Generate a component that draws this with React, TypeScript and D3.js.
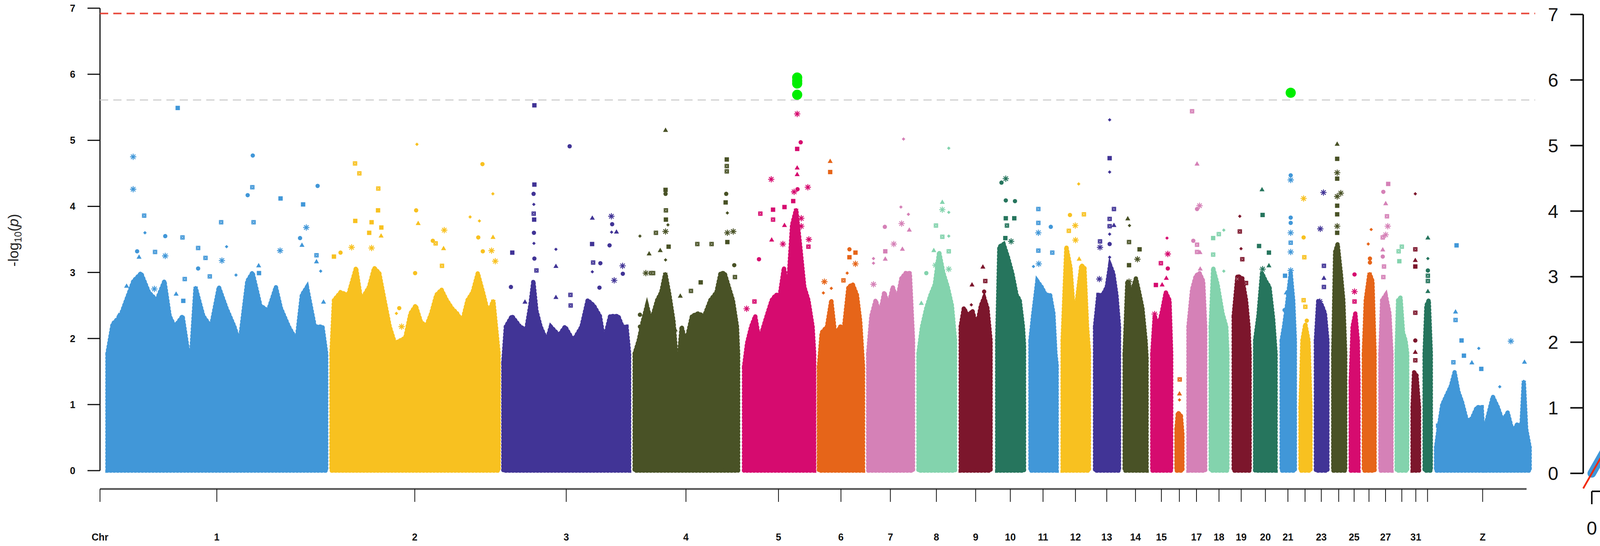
import React from 'react'
import * as d3 from 'd3'

// chromosomes, lengths (Mb) and colour cycle
const chrNames = ['1', '2', '3', '4', '5', '6', '7', '8', '9', '10', '11', '12', '13', '14', '15', '16', '17', '18', '19', '20', '21', '22', '23', '24', '25', '26', '27', '28', '31', '33', 'Z']
const chrLengths = [193, 148, 111, 92, 63, 39, 40, 33, 28, 25, 24.5, 24.5, 22.5, 20, 17.5, 6, 16, 15.5, 15.5, 19, 12.5, 9.5, 11, 11.5, 7.5, 10.5, 10.5, 10, 6.5, 6, 83]
const labelledChr = ['1', '2', '3', '4', '5', '6', '7', '8', '9', '10', '11', '12', '13', '14', '15', '17', '18', '19', '20', '21', '23', '25', '27', '31', 'Z']
const chrColors = ['#4197d8', '#f8c120', '#413496', '#495226', '#d60b6f', '#e66519', '#d581b7', '#83d3ad', '#7c162c', '#26755d']
const chrGap = 4.1

// dense body outline per chromosome: [position Mb, -log10(p)]
const body1 = [[0, 1.77], [4.6, 2.22], [11.4, 2.34], [18.3, 2.66], [22.9, 2.87], [29.7, 2.99], [36.6, 2.7], [43.4, 2.58], [50.3, 2.87], [54.9, 2.34], [59.4, 2.18], [66.3, 2.34], [73.2, 1.57], [77.7, 2.78], [84.6, 2.34], [91.4, 2.18], [98.3, 2.78], [105, 2.46], [112, 2.18], [116.6, 1.93], [123.4, 2.87], [128, 3.0], [134.9, 2.5], [141.7, 2.42], [148.6, 2.78], [153, 2.46], [160, 2.18], [166.9, 1.97], [171.5, 2.66], [176, 2.78], [182.9, 2.18], [189.7, 2.18], [193, 1.77]]
const body2 = [[0.5, 1.77], [2.7, 2.58], [8.5, 2.7], [15.3, 2.66], [22.2, 3.07], [26.7, 2.58], [33.6, 2.78], [38.2, 3.07], [42.7, 2.99], [47.3, 2.58], [51.9, 2.18], [56.5, 1.93], [61, 1.97], [65.6, 2.01], [70.2, 2.38], [74.8, 2.5], [79.3, 2.26], [83.9, 2.18], [88.5, 2.38], [93, 2.66], [97.6, 2.74], [102.2, 2.58], [106.8, 2.46], [111.3, 2.38], [115.9, 2.26], [120.5, 2.58], [125, 2.7], [129.6, 2.99], [134.2, 2.7], [138.8, 2.38], [143.3, 2.58], [148, 1.77]]
const body3 = [[0, 1.64], [2.2, 2.18], [7.6, 2.34], [14.8, 2.18], [20.2, 2.13], [23.8, 2.5], [26.5, 2.87], [29.2, 2.42], [32.9, 2.18], [38.3, 1.97], [41.9, 2.18], [49.1, 2.05], [54.5, 2.18], [61.7, 1.97], [69, 2.18], [74.4, 2.58], [79.8, 2.5], [85.2, 2.34], [88.8, 1.97], [94.2, 2.34], [101.4, 2.34], [105.1, 2.18], [108.7, 2.18], [111, 1.77]]
const body4 = [[0.7, 1.77], [4.3, 1.97], [7.9, 2.26], [11.6, 2.5], [15.2, 2.26], [20.6, 2.58], [24.2, 2.7], [27.8, 2.99], [31.4, 2.66], [35, 2.26], [38.6, 1.49], [42.2, 2.18], [45.8, 1.93], [51.3, 2.34], [56.7, 2.38], [62.1, 2.34], [67.5, 2.58], [72.9, 2.7], [76.5, 2.99], [80.1, 2.99], [83.8, 2.78], [87.4, 2.58], [91, 2.18], [92, 1.77]]
const body5 = [[1.1, 1.57], [3.8, 1.93], [7.4, 2.18], [11, 2.34], [14.6, 1.97], [18.2, 2.18], [21.8, 2.38], [25.5, 2.58], [29.1, 2.66], [32.7, 2.66], [36.3, 3.07], [39.9, 2.74], [43.5, 3.72], [47.1, 3.96], [50.7, 3.39], [54.3, 2.78], [57.9, 2.58], [61.6, 2.18], [63, 1.77]]
const body6 = [[0, 1.57], [2.5, 2.09], [7.2, 2.18], [11, 2.58], [14.7, 2.01], [18.5, 2.18], [22.3, 2.18], [26.1, 2.78], [29.9, 2.82], [33.6, 2.66], [36.5, 2.26], [39, 1.57]]
const body7 = [[0.4, 1.77], [3.2, 2.34], [7, 2.58], [10.8, 2.38], [14.6, 2.7], [18.3, 2.5], [22.1, 2.78], [25.9, 2.58], [29.7, 2.91], [33.5, 2.99], [37.2, 2.99], [40, 1.97]]
const body8 = [[0.6, 1.77], [3.8, 2.18], [7.6, 2.46], [11.3, 2.66], [15.1, 2.82], [18.9, 3.31], [22.7, 2.99], [26.5, 2.78], [30.2, 2.5], [33, 1.97]]
const body9 = [[0.8, 2.18], [3.6, 2.46], [7.4, 2.34], [11.2, 2.42], [14.9, 2.18], [18.7, 2.5], [21.5, 2.62], [24.4, 2.46], [27.2, 1.97]]
const body10 = [[0.9, 1.97], [2.8, 3.39], [6.6, 3.43], [10.4, 3.23], [14.2, 2.99], [18, 2.66], [20.8, 2.58], [23.6, 2.18], [24.6, 1.9]]
const body11 = [[1.1, 1.97], [3.4, 2.34], [7.2, 2.87], [11, 2.78], [14.7, 2.66], [18.5, 2.66], [21.4, 2.38], [23.2, 1.77], [24.3, 1.6]]
const body12 = [[0.9, 1.97], [4.2, 3.39], [7.9, 3.07], [10.8, 2.38], [13.6, 2.58], [17.4, 3.11], [20.2, 3.07], [22.5, 2.18], [24.2, 1.8]]
const body13 = [[0.9, 2.18], [3.8, 2.66], [7.6, 2.66], [11.3, 2.78], [14.2, 3.11], [17, 2.99], [19.8, 2.66], [22.1, 2.18]]
const body14 = [[0.4, 1.77], [2.8, 2.87], [6.6, 2.7], [10.4, 2.91], [13.2, 2.7], [16.1, 2.46], [18.9, 1.97], [19.8, 1.7]]
const body15 = [[0.7, 1.77], [2.8, 2.34], [6.1, 2.18], [9.4, 2.42], [12.6, 2.7], [15.9, 2.58], [17.4, 1.77]]
const body16 = [[0.4, 0.63], [1.7, 0.88], [4.4, 0.83], [5.7, 0.55]]
const body17 = [[0.9, 2.18], [4.1, 2.74], [7.4, 2.95], [10.7, 2.99], [13.9, 2.87], [15.7, 2.18]]
const body18 = [[0.4, 2.18], [2.6, 3.07], [6.5, 2.82], [10.9, 2.38], [14.2, 2.18], [15.2, 1.77]]
const body19 = [[1.1, 2.34], [4.4, 2.95], [8.7, 2.91], [12, 2.58], [14.2, 2.18], [15.2, 1.77]]
const body20 = [[0.4, 1.97], [3.3, 2.34], [6.5, 2.99], [9.8, 2.87], [13.1, 2.78], [16.3, 2.3], [18.5, 1.77]]
const body21 = [[0.7, 1.97], [2.8, 2.18], [5.4, 2.5], [8.7, 2.99], [10.9, 2.58], [12.4, 1.97]]
const body22 = [[0.7, 0.96], [2.4, 1.97], [5, 2.22], [7.8, 1.97], [9.6, 0.96]]
const body23 = [[0.7, 1.97], [2.8, 2.58], [6.1, 2.5], [8.7, 2.38], [10.9, 1.97]]
const body24 = [[0.9, 1.77], [2.6, 3.31], [4.8, 3.43], [7.6, 2.99], [9.8, 2.58], [11.5, 1.77]]
const body25 = [[0.7, 1.36], [2.4, 2.18], [4.8, 2.38], [7, 1.97], [7.6, 1.36]]
const body26 = [[0.7, 1.77], [2.4, 2.58], [5.7, 2.99], [8.3, 2.87], [10.2, 1.77]]
const body27 = [[0.7, 1.77], [2.2, 2.58], [5.4, 2.66], [8.7, 2.38], [10.5, 1.77]]
const body28 = [[0.4, 1.77], [1.7, 2.58], [3.9, 2.62], [6.1, 2.09], [8.3, 1.97], [9.8, 1.77]]
const body31 = [[0.4, 0.96], [1.7, 1.49], [3.9, 1.44], [6.1, 0.96]]
const body33 = [[0.4, 1.77], [2, 2.5], [4.1, 2.58], [5.9, 1.77]]
const bodyZ = [[0.4, 0.35], [2.6, 0.63], [5.9, 1.0], [10.2, 1.16], [13.5, 1.28], [16.8, 1.49], [20, 1.2], [23.3, 1.04], [27.7, 0.75], [32, 0.79], [36.4, 0.96], [40.7, 0.96], [41.8, 0.6], [42.3, 0], [43.8, 0], [44.3, 0.7], [46.2, 0.83], [50.5, 1.12], [54.9, 0.96], [59.2, 0.75], [63.6, 0.88], [68, 0.59], [72.3, 0.71], [75.6, 0.63], [77.8, 1.36], [79.9, 0.63], [83, 0.35]]

// sparse top markers per chromosome: [position Mb, -log10(p), symbol]
// c circle, s square, x square with cross, t triangle, d diamond, a asterisk
const peaks1 = [[62, 5.49, 's'], [22.7, 4.75, 'a'], [22.7, 4.26, 'a'], [128.2, 4.77, 'c'], [127.8, 4.29, 'x'], [123.7, 4.17, 'c'], [185.4, 4.31, 'c'], [152.7, 4.12, 's'], [172.6, 4.03, 's'], [32.4, 3.86, 'x'], [100.3, 3.76, 'x'], [33.1, 3.6, 'd'], [51, 3.55, 'c'], [66.2, 3.53, 'x'], [128.9, 3.76, 'x'], [175.4, 3.68, 'a'], [169.9, 3.52, 'c'], [80, 3.37, 'x'], [105.1, 3.39, 'd'], [26.2, 3.32, 'c'], [42, 3.31, 'x'], [51, 3.25, 'a'], [101, 3.18, 'a'], [86.5, 3.22, 'x'], [184.4, 3.26, 'x'], [171.6, 3.41, 't'], [152.3, 3.33, 'a'], [27.9, 3.23, 't'], [184.4, 3.16, 't'], [188.1, 3.02, 'd'], [133.7, 2.99, 's'], [133.4, 3.1, 't'], [113.4, 2.96, 'd'], [80, 3.06, 'c'], [90.3, 2.94, 'x'], [68.2, 2.9, 'x'], [16.9, 2.79, 't'], [190.6, 2.55, 't'], [41.4, 2.75, 'a'], [60.6, 2.67, 't'], [66.9, 2.57, 's'], [10, 2.35, 't']]
const peaks2 = [[75.9, 4.94, 'd'], [133.7, 4.64, 'c'], [21.3, 4.65, 'x'], [25.1, 4.5, 'x'], [41.8, 4.27, 'x'], [142.9, 4.19, 'd'], [41.6, 3.94, 's'], [75.2, 3.94, 'c'], [21.5, 3.78, 's'], [77, 3.74, 't'], [35.9, 3.76, 's'], [122.8, 3.84, 'd'], [131, 3.78, 'd'], [44.5, 3.68, 's'], [33.8, 3.6, 's'], [44.3, 3.55, 't'], [130, 3.53, 'c'], [143, 3.53, 't'], [100, 3.64, 'a'], [89.9, 3.48, 'c'], [92.4, 3.44, 'x'], [99.4, 3.36, 't'], [18.3, 3.38, 'a'], [35.9, 3.37, 'a'], [2.7, 3.24, 's'], [8.5, 3.3, 'c'], [141.7, 3.33, 'a'], [145, 3.17, 'a'], [134, 3.32, 'c'], [98, 3.1, 'x'], [74.3, 2.99, 'c'], [60.3, 2.46, 'c'], [62.4, 2.18, 'a'], [57.8, 2.38, 'd']]
const peaks3 = [[27.4, 5.53, 's'], [58.5, 4.91, 'c'], [27.4, 4.33, 's'], [26.7, 4.19, 'c'], [26.9, 4.03, 'd'], [26.8, 3.89, 'x'], [27.2, 3.8, 's'], [27, 3.6, 'c'], [27, 3.44, 'd'], [78.5, 3.82, 't'], [95.3, 3.85, 'a'], [96, 3.73, 'c'], [95.5, 3.61, 'd'], [99.8, 3.61, 't'], [93.7, 3.41, 'c'], [7.9, 3.3, 's'], [46.4, 3.35, 'd'], [46.4, 3.09, 't'], [78.3, 3.43, 's'], [79.2, 3.15, 'x'], [85.6, 3.14, 'c'], [105.2, 3.1, 'a'], [97.8, 2.88, 'a'], [105.4, 2.98, 'c'], [78.5, 3.01, 'd'], [27.4, 3.21, 'c'], [29.2, 3.03, 'x'], [6.7, 2.78, 'c'], [46.4, 2.62, 't'], [59.2, 2.66, 'x'], [59.4, 2.5, 'x'], [19.1, 2.55, 't'], [84.8, 2.77, 'c']]
const peaks4 = [[28, 5.15, 't'], [28, 4.25, 's'], [28, 4.19, 'c'], [28.3, 3.94, 'x'], [28.3, 3.8, 's'], [30.1, 3.72, 'd'], [28, 3.62, 'a'], [19.5, 3.6, 'x'], [5.4, 3.55, 'd'], [56, 3.43, 'x'], [68.6, 3.43, 'x'], [82, 4.71, 's'], [82, 4.61, 'x'], [82, 4.53, 'x'], [81.5, 4.19, 'c'], [81, 4.06, 's'], [82.5, 3.9, 'd'], [82.5, 3.6, 'a'], [87.7, 3.62, 'a'], [82.5, 3.46, 's'], [13.5, 3.28, 't'], [23.3, 3.33, 't'], [28, 3.19, 'd'], [30.7, 3.39, 's'], [15.2, 2.99, 'x'], [17, 2.99, 'x'], [10.6, 2.99, 'a'], [89.2, 2.93, 'x'], [88.6, 3.11, 'c'], [59, 2.85, 's'], [50.4, 2.72, 'x'], [41, 2.64, 't'], [5.4, 2.36, 'c'], [5.4, 2.18, 'c'], [36.5, 2.13, 't']]
const peaks5 = [[48, 5.4, 'a'], [51.1, 4.97, 'c'], [48, 4.87, 's'], [48, 4.58, 't'], [48, 4.48, 't'], [25.1, 4.41, 'a'], [57.4, 4.29, 'a'], [48.3, 4.26, 'c'], [45.3, 4.22, 'a'], [44.5, 4.08, 's'], [15.5, 3.89, 'x'], [26.7, 3.95, 's'], [36.8, 3.99, 's'], [26.7, 3.8, 'x'], [36.8, 3.71, 't'], [25.5, 3.49, 't'], [35.4, 3.43, 'a'], [14.3, 3.2, 'c'], [3.4, 2.45, 'a'], [10.3, 2.56, 'x'], [57.9, 3.39, 'x'], [58.3, 3.5, 'a'], [51.6, 3.82, 'a'], [51.6, 3.7, 'a']]
const peaks6 = [[10, 4.68, 't'], [10, 4.52, 's'], [27, 3.35, 'c'], [32.3, 3.3, 's'], [27, 3.23, 's'], [32.3, 3.13, 'a'], [4.9, 2.86, 'a'], [21.7, 2.88, 'x'], [25, 2.99, 'd'], [11, 2.76, 'd'], [4, 2.69, 'd']]
const peaks7 = [[31.6, 5.02, 'd'], [29.3, 3.99, 'd'], [35.9, 3.88, 'd'], [29.9, 3.74, 'a'], [15.1, 3.69, 'c'], [36.7, 3.64, 't'], [23, 3.43, 'a'], [15.5, 3.32, 's'], [15.5, 3.2, 't'], [5.1, 3.21, 'd'], [5.1, 3.14, 'd'], [30.6, 3.35, 't'], [5.1, 2.82, 'a']]
const peaks8 = [[27.4, 4.88, 'd'], [21.7, 4.06, 't'], [21.7, 3.95, 'a'], [27.4, 3.91, 'd'], [16.1, 3.71, 'x'], [21.7, 3.54, 'x'], [27.4, 3.55, 'd'], [14.2, 3.33, 't'], [27.4, 3.32, 'x'], [15.7, 3.11, 'a'], [27.4, 3.05, 'a'], [7.6, 2.99, 'c'], [3.2, 2.53, 't']]
const peaks9 = [[20.4, 3.08, 't'], [10.8, 2.81, 't'], [22.5, 2.87, 'x'], [21.5, 2.71, 'c'], [10.2, 2.51, 'd']]
const peaks10 = [[8.5, 4.42, 'a'], [4.7, 4.36, 'c'], [8.5, 4.09, 'c'], [16.6, 4.08, 'c'], [8.5, 3.82, 's'], [16, 3.82, 's'], [9.5, 3.71, 'x'], [8.1, 3.52, 's'], [13.2, 3.47, 'a']]
const peaks11 = [[8.1, 3.96, 'x'], [8.1, 3.75, 'x'], [8.1, 3.33, 'x'], [20.4, 3.3, 'x'], [8.1, 3.6, 'a'], [19.1, 3.69, 'c'], [8.5, 3.13, 'a'], [3.8, 3.09, 'd']]
const peaks12 = [[15.1, 4.34, 'd'], [7.4, 3.87, 'c'], [19.7, 3.88, 'x'], [12.1, 3.71, 'a'], [6.4, 3.63, 'x'], [12.3, 3.49, 'a'], [15.5, 3.2, 't']]
const peaks13 = [[13.8, 5.31, 'd'], [13.8, 4.73, 's'], [13.8, 4.52, 'd'], [17.6, 3.96, 'x'], [13.8, 3.81, 'x'], [13.8, 3.7, 'x'], [17.6, 3.71, 't'], [13.8, 3.58, 'd'], [5.3, 3.47, 'x'], [5.3, 3.38, 'a'], [13.8, 3.43, 'c'], [13.8, 3.23, 'd'], [4.7, 2.9, 'a']]
const peaks14 = [[3.2, 3.81, 't'], [4.7, 3.71, 'd'], [4.3, 3.46, 'x'], [13.6, 3.35, 's'], [11.7, 3.2, 'a'], [4.3, 3.11, 's'], [4.3, 2.86, 'a']]
const peaks15 = [[13.7, 3.52, 'd'], [14.4, 3.28, 'a'], [8.3, 3.14, 'x'], [14.4, 3.06, 'c'], [13.1, 2.91, 't'], [3.9, 2.81, 's'], [9.4, 2.81, 't'], [2.8, 2.37, 'a']]
const peaks16 = [[3.3, 1.38, 'x'], [3.1, 1.16, 't'], [3.1, 1.07, 'd']]
const peaks17 = [[4.1, 5.44, 'x'], [8.5, 4.64, 't'], [10.7, 4.01, 'a'], [8.5, 3.96, 'c'], [5.2, 3.48, 'c'], [8.5, 3.42, 'x'], [8.5, 3.31, 'x'], [11.1, 3.3, 't'], [11.3, 3.05, 't']]
const peaks18 = [[12, 3.64, 'd'], [7.6, 3.58, 'x'], [2.6, 3.52, 's'], [2.6, 3.27, 'x'], [12, 3.02, 'd']]
const peaks19 = [[6.5, 3.85, 'd'], [6.5, 3.62, 'x'], [7.6, 3.36, 'd'], [8.7, 3.2, 'x'], [4.4, 2.9, 'x'], [12, 2.84, 'x']]
const peaks20 = [[6.5, 4.25, 't'], [7, 3.87, 's'], [3.9, 3.4, 's'], [12.6, 3.3, 's'], [12.6, 3.1, 't'], [7, 3.05, 'a']]
const peaks21 = [[8.7, 4.47, 'c'], [8.7, 4.4, 'a'], [8.7, 3.83, 'c'], [8.7, 3.75, 'c'], [8.7, 3.6, 'a'], [8.7, 3.45, 'x'], [8.7, 3.31, 'a'], [8.7, 3.03, 'a'], [3.7, 2.95, 's'], [4.8, 2.69, 't'], [3.3, 2.43, 'c']]
const peaks22 = [[3.5, 4.12, 'a'], [3.5, 3.53, 'c'], [4.1, 3.23, 'x'], [3.5, 2.58, 'x'], [5, 2.48, 'x'], [6.3, 2.27, 'c']]
const peaks23 = [[7.4, 4.21, 'a'], [4.6, 3.66, 'a'], [7.8, 3.1, 'x'], [7.8, 2.91, 't'], [7.8, 2.78, 'x'], [4.2, 2.56, 'a']]
const peaks24 = [[4.4, 4.94, 't'], [4.4, 4.72, 's'], [4.4, 4.51, 'a'], [4.4, 4.42, 's'], [4.4, 4.15, 'a'], [7.6, 4.2, 'a'], [4.4, 4.01, 's'], [4.4, 3.88, 's'], [4.4, 3.7, 'a'], [4.4, 3.6, 's']]
const peaks25 = [[4.1, 2.97, 'c'], [4.1, 2.71, 'a'], [4.1, 2.56, 'x']]
const peaks26 = [[7.2, 3.65, 'd'], [4.6, 3.43, 'd'], [6.1, 3.21, 'c'], [6.1, 3.15, 'c']]
const peaks27 = [[7.6, 4.34, 's'], [3.3, 4.22, 'c'], [5.4, 4.04, 't'], [6.5, 3.85, 'x'], [7.2, 3.7, 'a'], [2.8, 3.53, 'x'], [5.4, 3.57, 'a'], [2.8, 3.34, 't'], [2.8, 3.24, 'c'], [3.9, 3.09, 'x'], [3.3, 2.93, 'x']]
const peaks28 = [[5, 3.39, 'x'], [2.2, 3.32, 'x'], [2.8, 3.17, 's']]
const peaks31 = [[2.8, 4.19, 'd'], [2.8, 3.35, 'x'], [2.8, 3.18, 't'], [2.8, 3.09, 's'], [2.8, 2.39, 'x'], [2.8, 1.97, 'c'], [2.8, 1.79, 't'], [2.8, 1.67, 'x']]
const peaks33 = [[3.3, 3.52, 't'], [3.3, 3.21, 'd'], [3.3, 3.03, 'c'], [3.3, 2.95, 'x'], [3.3, 2.87, 'x'], [3.3, 2.71, 't']]
const peaksZ = [[18.5, 3.41, 's'], [17.6, 2.4, 't'], [17.6, 2.28, 'x'], [66.4, 1.96, 'a'], [22.9, 1.97, 's'], [38.1, 1.85, 'd'], [25, 1.74, 's'], [15.7, 1.64, 'x'], [32, 1.63, 't'], [40.3, 1.54, 's'], [78.4, 1.64, 't'], [56.6, 1.27, 'd'], [2.2, 0.68, 's']]

// signals above the suggestive line: [chromosome, position Mb, -log10(p)]
const sigPoints = [['5', 48, 5.95], ['5', 48, 5.9], ['5', 48, 5.86], ['5', 48, 5.69], ['21', 8.7, 5.72]]

const yTicks = [0, 1, 2, 3, 4, 5, 6, 7]
const redThreshold = 6.92
const grayThreshold = 5.61

// QQ plot: expected vs observed -log10(p)
const qqDense = [[0, 0], [1, 1], [2, 2.02], [2.5, 2.6], [2.7, 2.84], [3.0, 3.3], [3.2, 3.65], [3.44, 4.0], [3.7, 4.3], [3.93, 4.54], [4.15, 4.75], [4.35, 4.92]]
const qqTop = [[4.4, 4.92], [4.45, 4.97], [4.5, 5.02], [4.56, 5.14], [4.56, 5.33], [4.62, 5.4], [4.66, 5.46], [4.72, 5.5], [4.78, 5.53], [4.82, 5.56], [4.86, 5.68], [4.98, 5.72], [5.0, 5.87], [5.1, 5.87], [5.17, 5.9], [5.33, 5.91], [5.63, 5.95]]
const qqBandExpected = [2.5, 3.0, 3.5, 4.0, 4.5, 5.0, 5.3, 5.61]
const qqBandLower = [2.45, 2.92, 3.38, 3.83, 4.27, 4.68, 4.9, 5.13]
const qqBandUpper = [2.56, 3.1, 3.66, 4.25, 4.88, 5.62, 6.08, 6.91]
const qqLineRange = [-0.23, 6.24]
const qqXTicks = [0, 1, 2, 3, 4, 5, 6]
const qqYTicks = [0, 1, 2, 3, 4, 5, 6, 7]

const bodies = [body1, body2, body3, body4, body5, body6, body7, body8, body9, body10, body11, body12, body13, body14, body15, body16, body17, body18, body19, body20, body21, body22, body23, body24, body25, body26, body27, body28, body31, body33, bodyZ]
const peaks = [peaks1, peaks2, peaks3, peaks4, peaks5, peaks6, peaks7, peaks8, peaks9, peaks10, peaks11, peaks12, peaks13, peaks14, peaks15, peaks16, peaks17, peaks18, peaks19, peaks20, peaks21, peaks22, peaks23, peaks24, peaks25, peaks26, peaks27, peaks28, peaks31, peaks33, peaksZ]

const FONT = "'Liberation Sans', Arial, Helvetica, sans-serif"

// 8-spoke asterisk like R's pch 8
function asteriskPath(r: number) {
  const p = d3.path()
  for (let k = 0; k < 4; k++) {
    const a = (k * Math.PI) / 4
    p.moveTo(-r * Math.cos(a), -r * Math.sin(a))
    p.lineTo(r * Math.cos(a), r * Math.sin(a))
  }
  return p.toString()
}

const circlePath = d3.symbol(d3.symbolCircle, 95)()
const squarePath = d3.symbol(d3.symbolSquare, 125)()
const trianglePath = d3.symbol(d3.symbolTriangle, 72)()
const diamondPath = d3.symbol(d3.symbolSquare, 40)()
const starPath = asteriskPath(8)

function Marker({ cx, cy, shape, color }: { cx: number; cy: number; shape: string; color: string }) {
  const t = `translate(${cx},${cy})`
  if (shape === 'a') return <path d={starPath} transform={t} stroke={color} strokeWidth={2.4} fill="none" />
  if (shape === 'd') return <path d={diamondPath} transform={`${t} rotate(45)`} fill={color} />
  if (shape === 't') return <path d={trianglePath} transform={t} fill={color} />
  if (shape === 'c') return <path d={circlePath} transform={t} fill={color} />
  if (shape === 'x') {
    return (
      <g transform={t}>
        <path d={squarePath} fill={color} />
        <path d="M-3.5,-3.5L3.5,3.5M-3.5,3.5L3.5,-3.5" stroke="#ffffff" strokeWidth={1.1} strokeDasharray="1.5 1" opacity={0.85} />
      </g>
    )
  }
  return <path d={squarePath} transform={t} fill={color} />
}

export default function App() {
  const width = 4680
  const height = 1398

  // cumulative chromosome offsets
  const offsets: number[] = []
  let acc = 0
  chrLengths.forEach((len) => {
    offsets.push(acc)
    acc += len + chrGap
  })
  const total = acc - chrGap

  const x = d3.scaleLinear().domain([0, total]).range([275, 3916])
  const y = d3.scaleLinear().domain([0, 7]).range([1205, 21])
  const axisX = 256
  const bottomAxisY = 1252

  const qx = d3.scaleLinear().domain([0, 6]).range([4075, 4648])
  const qy = d3.scaleLinear().domain([0, 7]).range([1212, 37])
  const qAxisX = 4053
  const qAxisY = 1258

  const area = d3.area<number[]>()
    .x0((d) => d[0])
    .y0(y(0))
    .y1((d) => d[1])
    .curve(d3.curveLinear)

  const qqLine = d3.line<number[]>()
    .x((d) => qx(d[0]))
    .y((d) => qy(d[1]))
    .curve(d3.curveLinear)

  const band = d3.area<number>()
    .x((_, i) => qx(qqBandExpected[i]))
    .y0((_, i) => qy(qqBandLower[i]))
    .y1((_, i) => qy(qqBandUpper[i]))

  const chrIndex = (name: string) => chrNames.indexOf(name)

  return (
    <svg width={width} height={height} style={{ position: 'absolute', left: 0, top: 0, background: '#ffffff', display: 'block' }} fontFamily={FONT}>
      <rect x={0} y={0} width={width} height={height} fill="#ffffff" />

      {/* y axis title */}
      <text transform="translate(47,615) rotate(-90)" textAnchor="middle" fontSize={37} fill="#222">
        -log<tspan fontSize={25} dy={8}>10</tspan><tspan dy={-8}>(</tspan><tspan fontStyle="italic">p</tspan>)
      </text>

      {/* Manhattan y axis */}
      <line x1={axisX} x2={axisX} y1={y(0)} y2={y(7)} stroke="#111" strokeWidth={3} />
      {yTicks.map((t) => (
        <g key={`yt${t}`}>
          <line x1={axisX - 32} x2={axisX} y1={y(t)} y2={y(t)} stroke="#111" strokeWidth={3} />
          <text x={186} y={y(t) + 9} textAnchor="middle" fontSize={25} fontWeight="bold" fill="#111">{t}</text>
        </g>
      ))}

      {/* thresholds */}
      <line x1={axisX} x2={3930} y1={y(redThreshold)} y2={y(redThreshold)} stroke="#e8483b" strokeWidth={4} strokeDasharray="21 13" />
      <line x1={axisX} x2={3930} y1={y(grayThreshold)} y2={y(grayThreshold)} stroke="#cfcfcf" strokeWidth={3} strokeDasharray="21 13" />

      {/* dense bodies, with a dotted rim to mimic the ragged point edge */}
      {bodies.map((b, i) => {
        const color = chrColors[i % chrColors.length]
        const pts = b.map((d) => [x(offsets[i] + d[0]), y(d[1])])
        const dPath = area(pts) || ''
        return (
          <g key={`body${i}`}>
            <path d={dPath} fill={color} stroke={color} strokeWidth={5} strokeLinejoin="round" />
            <path d={dPath} fill="none" stroke={color} strokeWidth={11} strokeLinecap="round" strokeDasharray="2 7" />
          </g>
        )
      })}

      {/* sparse markers */}
      {peaks.map((list, i) => {
        const color = chrColors[i % chrColors.length]
        return (
          <g key={`pk${i}`}>
            {list.map((p, j) => (
              <Marker key={j} cx={x(offsets[i] + (p[0] as number))} cy={y(p[1] as number)} shape={p[2] as string} color={color} />
            ))}
          </g>
        )
      })}

      {/* highlighted signals */}
      {sigPoints.map((s, k) => {
        const i = chrIndex(s[0] as string)
        return <circle key={`sig${k}`} cx={x(offsets[i] + (s[1] as number))} cy={y(s[2] as number)} r={13} fill="#00ee00" />
      })}

      {/* chromosome axis */}
      <line x1={axisX} x2={3908} y1={bottomAxisY} y2={bottomAxisY} stroke="#555" strokeWidth={4.5} />
      <line x1={axisX} x2={axisX} y1={bottomAxisY} y2={bottomAxisY + 33} stroke="#111" strokeWidth={2} />
      <text x={axisX} y={1384} textAnchor="middle" fontSize={25} fontWeight="bold" fill="#111">Chr</text>
      {chrNames.map((name, i) => {
        const cx = x(offsets[i] + chrLengths[i] / 2)
        return (
          <g key={`ct${name}`}>
            <line x1={cx} x2={cx} y1={bottomAxisY} y2={bottomAxisY + 33} stroke="#111" strokeWidth={2} />
            {labelledChr.includes(name) && (
              <text x={cx} y={1384} textAnchor="middle" fontSize={25} fontWeight="bold" fill="#111">{name}</text>
            )}
          </g>
        )
      })}

      {/* QQ plot */}
      <path d={band(qqBandExpected) || ''} fill="#4197d8" fillOpacity={0.32} stroke="#4197d8" strokeWidth={3} />
      <path d={qqLine(qqDense) || ''} fill="none" stroke="#4197d8" strokeWidth={22} strokeLinecap="round" strokeLinejoin="round" />
      {qqTop.map((p, k) => (
        <circle key={`qq${k}`} cx={qx(p[0])} cy={qy(p[1])} r={10} fill="#4197d8" />
      ))}
      <line x1={qx(qqLineRange[0])} x2={qx(qqLineRange[1])} y1={qy(qqLineRange[0])} y2={qy(qqLineRange[1])} stroke="#f22b0c" strokeWidth={4.5} />

      <line x1={qAxisX} x2={qAxisX} y1={qy(0)} y2={qy(7)} stroke="#111" strokeWidth={4} />
      {qqYTicks.map((t) => (
        <g key={`qy${t}`}>
          <line x1={qAxisX - 33} x2={qAxisX} y1={qy(t)} y2={qy(t)} stroke="#111" strokeWidth={4} />
          <text x={3976} y={qy(t) + 17} textAnchor="middle" fontSize={48} fill="#111">{t}</text>
        </g>
      ))}
      <line x1={qx(0)} x2={qx(6)} y1={qAxisY} y2={qAxisY} stroke="#111" strokeWidth={4} />
      {qqXTicks.map((t) => (
        <g key={`qx${t}`}>
          <line x1={qx(t)} x2={qx(t)} y1={qAxisY} y2={qAxisY + 33} stroke="#111" strokeWidth={4} />
          <text x={qx(t)} y={1369} textAnchor="middle" fontSize={48} fill="#111">{t}</text>
        </g>
      ))}
    </svg>
  )
}
